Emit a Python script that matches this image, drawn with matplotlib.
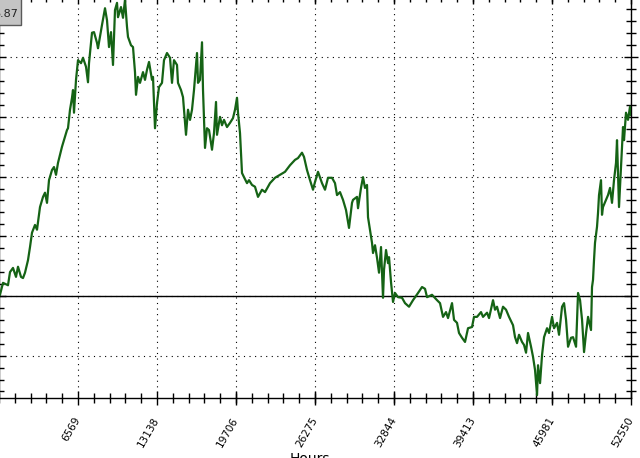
# Recreate the green hourly series chart (cropped view)
import numpy as np
from matplotlib import pyplot as plt
from matplotlib.patches import Rectangle
from matplotlib.ticker import MultipleLocator, AutoMinorLocator

# data
hours = [83, 333, 748, 915, 1164, 1414, 1580, 1829, 1996, 2162, 2411, 2578, 2744, 2993,
         3160, 3409, 3659, 3825, 3991, 4158, 4407, 4573, 4740, 4906, 5238, 5405, 5654,
         5737, 5904, 6070, 6153, 6236, 6403, 6569, 6818, 6985, 7234, 7400, 7484, 7733,
         7899, 8149, 8232, 8564, 8814, 8980, 9147, 9313, 9479, 9645, 9812, 9895, 10144,
         10311, 10477, 10643, 10726, 10976, 11142, 11308, 11392, 11558, 11724, 11974,
         12140, 12306, 12473, 12722, 12805, 12971, 13138, 13304, 13553, 13720, 13969,
         14219, 14385, 14551, 14801, 14884, 15133, 15300, 15549, 15715, 15882, 16048,
         16214, 16464, 16547, 16713, 16880, 16963, 17129, 17295, 17462, 17711, 17877,
         18044, 18127, 18376, 18542, 18709, 18958, 19208, 19457, 19623, 19790, 19873,
         20039, 20122, 20205, 20372, 20621, 20788, 21037, 21286, 21536, 21868, 22118,
         22534, 22949, 23365, 23781, 24197, 24612, 24862, 25194, 25361, 25610, 25860,
         26109, 26275, 26525, 26857, 27107, 27356, 27689, 27938, 28105, 28354, 28604,
         28853, 29103, 29352, 29435, 29768, 29851, 30100, 30267, 30433, 30600, 30683,
         30849, 31015, 31099, 31265, 31431, 31598, 31764, 31930, 32014, 32180, 32347,
         32430, 32596, 32763, 32929, 33179, 33511, 33760, 34093, 34426, 34841, 35174,
         35423, 35590, 36005, 36421, 36670, 36920, 37169, 37336, 37668, 37835, 38084,
         38250, 38500, 38749, 38999, 39331, 39497, 39747, 40079, 40246, 40579, 40745,
         41078, 41244, 41410, 41660, 41909, 42159, 42408, 42741, 42907, 43074, 43240,
         43489, 43656, 43822, 43988, 44238, 44404, 44571, 44737, 44820, 44987, 45153,
         45320, 45569, 45735, 45985, 46151, 46401, 46567, 46816, 46983, 47149, 47316,
         47565, 47732, 47981, 48147, 48314, 48480, 48646, 48813, 48979, 49225, 49308,
         49391, 49474, 49557, 49724, 49807, 49890, 50056, 50139, 50222, 50472, 50638,
         50805, 50971, 51137, 51304, 51387, 51553, 51719, 51886, 51969, 52135, 52302,
         52468, 52550]
values = [0.02, 0.22, 0.18, 0.40, 0.47, 0.32, 0.49, 0.32, 0.30, 0.39, 0.60, 0.82, 1.06, 1.19,
          1.11, 1.49, 1.66, 1.73, 1.56, 1.94, 2.11, 2.16, 2.03, 2.23, 2.50, 2.61, 2.78,
          2.81, 3.12, 3.32, 3.45, 3.07, 3.62, 3.95, 3.90, 3.99, 3.84, 3.58, 3.90, 4.41,
          4.42, 4.24, 4.15, 4.54, 4.82, 4.62, 4.17, 4.42, 3.87, 4.79, 4.91, 4.67, 4.84,
          4.66, 4.96, 4.51, 4.34, 4.20, 4.17, 3.75, 3.37, 3.67, 3.57, 3.75,
          3.62, 3.79, 3.92, 3.62, 3.67, 2.81, 3.23, 3.50, 3.57, 3.95, 4.07,
          3.99, 3.57, 3.95, 3.87, 3.57, 3.45, 3.33, 2.70, 3.12, 2.95, 3.12,
          3.45, 4.07, 3.57, 3.62, 4.25, 3.45, 2.48, 2.81, 2.78, 2.45, 2.73,
          3.25, 2.70, 3.00, 2.86, 2.95, 2.83, 2.90, 2.98, 3.12, 3.32, 3.07,
          2.73, 2.40, 2.06, 1.99, 1.89, 1.94, 1.86, 1.83, 1.66, 1.78, 1.74,
          1.89, 1.98, 2.03, 2.08, 2.19, 2.28, 2.31, 2.40, 2.33, 2.11, 1.94,
          1.78, 1.91, 2.08, 1.89, 1.78, 1.98, 1.98, 1.89, 1.69, 1.74, 1.61,
          1.44, 1.14, 1.56, 1.61, 1.66, 1.47, 1.81, 1.99, 1.81, 1.86, 1.32,
          1.11, 0.89, 0.72, 0.85, 0.64, 0.39, 0.82, -0.03, 0.44, 0.77, 0.55,
          0.65, 0.23, -0.10, 0.05, -0.02, -0.03, -0.12, -0.18, -0.07, 0.05, 0.15,
          0.12, -0.02, 0.02, -0.07, -0.12, -0.35, -0.27, -0.37, -0.12, -0.40, -0.45,
          -0.62, -0.70, -0.77, -0.54, -0.52, -0.35, -0.35, -0.27, -0.35, -0.28, -0.37,
          -0.07, -0.23, -0.18, -0.37, -0.18, -0.23, -0.35, -0.49, -0.69, -0.79, -0.65,
          -0.77, -0.82, -0.95, -0.62, -0.85, -1.02, -1.24, -1.66, -1.16, -1.46, -0.99,
          -0.69, -0.54, -0.62, -0.35, -0.54, -0.45, -0.65, -0.18, -0.12, -0.40, -0.85,
          -0.70, -0.69, -0.85, 0.05, -0.07, -0.40, -0.94, -0.62, -0.35, -0.57, 0.15,
          0.27, 0.60, 0.89, 1.16, 1.39, 1.69, 1.94, 1.36, 1.49, 1.61, 1.69,
          1.81, 1.56, 1.94, 2.23, 2.61, 1.49, 2.16, 2.83, 2.61, 3.07, 2.95,
          3.17, 3.03]
x_ticks = [6569, 13138, 19706, 26275, 32844, 39413, 45981, 52550]
box_text = '6.87'

fig = plt.figure(figsize=(6.4, 4.58), dpi=100)
ax = fig.add_axes([-1 / 640, 60 / 458, 632 / 640, 400.5 / 458])

ax.plot(hours, values, color='#156315', lw=1.6, zorder=3)
ax.axhline(0, color='black', lw=1.0, zorder=2)

ax.set_xlim(0, 52550)
ax.set_ylim(-1.709, 5.0)
ax.set_xticks(x_ticks)
ax.set_xticklabels([str(t) for t in x_ticks], rotation=60, ha='right', va='center',
                   rotation_mode='anchor', fontsize=7.5)
ax.xaxis.set_minor_locator(AutoMinorLocator(5))
ax.yaxis.set_major_locator(MultipleLocator(1))
ax.yaxis.set_minor_locator(AutoMinorLocator(5))
ax.tick_params(which='both', direction='inout', top=True, right=True,
               labelleft=False, width=1)
ax.tick_params(which='major', length=10, pad=9)
ax.tick_params(which='minor', length=7)
ax.grid(True, which='major', color='black', linestyle=(0, (1, 4)), lw=0.8)
for s in ax.spines.values():
    s.set_linewidth(1)

ax.set_xlabel('Hours', fontsize=10)
ax.xaxis.set_label_coords(311 / 632, -54 / 400.5)
ax.xaxis.label.set_va('top')

# value box in the top-left corner (cut at the edge as in the original)
fig.patches.append(Rectangle((-6 / 640, 1 - 25 / 458), 27 / 640, 27 / 458,
                             transform=fig.transFigure, facecolor='#c4c4c4',
                             edgecolor='#5a5a5a', lw=1, zorder=5))
fig.text(18 / 640, 1 - 14 / 458, box_text, ha='right', va='center', fontsize=8,
         color='#222222', zorder=6)

fig.savefig('out.png', dpi=100)
